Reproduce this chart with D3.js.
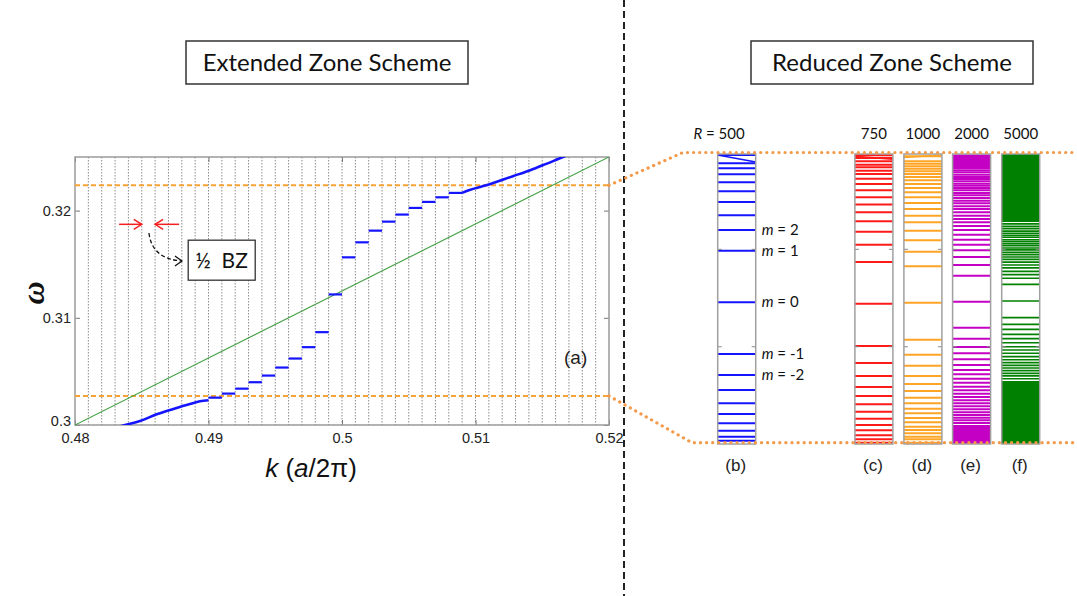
<!DOCTYPE html>
<html>
<head>
<meta charset="utf-8">
<script src="https://cdn.jsdelivr.net/npm/d3@7"></script>
<style>
  body { margin: 0; background: #fff; }
  svg { display: block; }
</style>
</head>
<body>
<svg id="fig" width="1077" height="596"></svg>
<script>
// ---------------- data ----------------
// (a) extended zone: dispersion of the ring modes vs. k
const kDomain = [0.48, 0.52];
const omegaDomain = [0.3, 0.325];
const kTicks = [0.48, 0.49, 0.5, 0.51, 0.52];
const kTickLabels = ["0.48", "0.49", "0.5", "0.51", "0.52"];
const omegaTicks = [0.3, 0.31, 0.32];
const omegaTickLabels = ["0.3", "0.31", "0.32"];
const zoneStep = 0.001;                     // half Brillouin zone width in k

const lightLineK = [0.48, 0.52];
const lightLineOmega = [0.3, 0.325];

const lowerBranchK = [0.4830, 0.48375, 0.48487, 0.48612, 0.48737, 0.48861, 0.48936, 0.4900];
const lowerBranchOmega = [0.29975, 0.3000, 0.30037, 0.30100, 0.30150, 0.30196, 0.30221, 0.30231];

const upperBranchK = [0.5090, 0.5095, 0.5108, 0.5128, 0.5141, 0.5153, 0.5167, 0.5175];
const upperBranchOmega = [0.32165, 0.32190, 0.32236, 0.32321, 0.32377, 0.32436, 0.32507, 0.32545];

const stepStartK = [0.490, 0.491, 0.492, 0.493, 0.494, 0.495, 0.496, 0.497, 0.498, 0.499,
                    0.500, 0.501, 0.502, 0.503, 0.504, 0.505, 0.506, 0.507, 0.508];
const stepOmega = [0.30255, 0.30293, 0.30339, 0.30399, 0.30461, 0.30536, 0.30620, 0.30726, 0.30866, 0.31218,
                   0.31564, 0.31704, 0.31813, 0.31897, 0.31963, 0.32025, 0.32081, 0.32124, 0.32165];

// frequency window shown in the reduced zone panels
const windowOmega = [0.30271, 0.32236];

// (b)-(f) reduced zone: mode frequencies for rings of radius R
const ringRadii = ["500", "750", "1000", "2000", "5000"];
const panelLetters = ["(b)", "(c)", "(d)", "(e)", "(f)"];
const columnTickOmega = [0.3159, 0.3093];

const levelsR500 = [0.32229, 0.32173, 0.32139, 0.32098, 0.32044, 0.31983, 0.31911, 0.31821, 0.31721, 0.31581,
  0.31231, 0.30881, 0.30739, 0.30637, 0.30547, 0.30474, 0.30411, 0.30361, 0.30320, 0.30293];
const levelsR750 = [0.32227, 0.32209, 0.32187, 0.32164, 0.32146, 0.32123, 0.32100, 0.32069, 0.32033, 0.31990,
  0.31943, 0.31893, 0.31841, 0.31780, 0.31710, 0.31621, 0.31504, 0.31222, 0.30935, 0.30820, 0.30732, 0.30657,
  0.30596, 0.30540, 0.30490, 0.30442, 0.30400, 0.30364, 0.30330, 0.30303, 0.30280];
const levelsR1000 = [0.32220, 0.32187, 0.32170, 0.32153, 0.32136, 0.32119, 0.32100, 0.32080, 0.32058, 0.32033,
  0.32006, 0.31977, 0.31943, 0.31904, 0.31863, 0.31818, 0.31773, 0.31716, 0.31651, 0.31574, 0.31475, 0.31228,
  0.30978, 0.30876, 0.30802, 0.30732, 0.30678, 0.30630, 0.30585, 0.30547, 0.30510, 0.30479, 0.30447, 0.30418,
  0.30388, 0.30366, 0.30343, 0.30320, 0.30303, 0.30280];
const levelsR2000 = [0.32226, 0.32216, 0.32206, 0.32195, 0.32185, 0.32175, 0.32165, 0.32155, 0.32141, 0.32126,
  0.32112, 0.32096, 0.32080, 0.32067, 0.32051, 0.32035, 0.32021, 0.32006, 0.31990, 0.31972, 0.31956, 0.31938,
  0.31920, 0.31902, 0.31882, 0.31863, 0.31841, 0.31818, 0.31796, 0.31773, 0.31748, 0.31721, 0.31689, 0.31655,
  0.31621, 0.31584, 0.31538, 0.31484, 0.31411, 0.31235, 0.31059, 0.30985, 0.30928, 0.30886, 0.30845, 0.30806,
  0.30772, 0.30743, 0.30713, 0.30686, 0.30659, 0.30635, 0.30612, 0.30589, 0.30567, 0.30547, 0.30526, 0.30506,
  0.30486, 0.30468, 0.30449, 0.30432, 0.30413, 0.30393, 0.30379, 0.30369, 0.30359, 0.30349, 0.30339, 0.30329,
  0.30318, 0.30308, 0.30298, 0.30288, 0.30278];
const levelsR5000 = [0.31762, 0.31746, 0.31730, 0.31714, 0.31699, 0.31685, 0.31672, 0.31655, 0.31642, 0.31628,
  0.31615, 0.31599, 0.31586, 0.31570, 0.31554, 0.31538, 0.31522, 0.31504, 0.31484, 0.31464, 0.31441, 0.31418,
  0.31394, 0.31353, 0.31240, 0.31127, 0.31082, 0.31048, 0.31014, 0.30985, 0.30957, 0.30930, 0.30908, 0.30886,
  0.30863, 0.30842, 0.30822, 0.30804, 0.30786, 0.30768, 0.30750, 0.30732, 0.30713];
// unresolved, densely packed modes
const denseBandsR5000 = [[0.31775, 0.32236], [0.30271, 0.30698]];
// tilted segments at the top edge (left edge omega, right edge omega)
const crossingR500 = [0.32229, 0.32182];
const crossingR750 = [0.32220, 0.32200];
const crossingR1000 = [0.32212, 0.32229];

const modeNumbers = ["2", "1", "0", "-1", "-2"];
const modeOmega = [0.31721, 0.31581, 0.31231, 0.30881, 0.30739];

// ---------------- layout ----------------
const svg = d3.select("#fig");
const plot = { left: 75, right: 609, top: 157, bottom: 425 };
const x = d3.scaleLinear().domain(kDomain).range([plot.left, plot.right]);
const y = d3.scaleLinear().domain(omegaDomain).range([plot.bottom, plot.top]);

const SANS = "'Liberation Sans', Arial, sans-serif";
const CAL = "Lato, 'Open Sans', sans-serif";
const ORANGE = "#f7a234";

// vertical divider between the two schemes
svg.append("line")
  .attr("x1", 624).attr("x2", 624).attr("y1", 0).attr("y2", 596)
  .attr("stroke", "#222").attr("stroke-width", 2).attr("stroke-dasharray", "7,4");

// titled boxes
function titleBox(cx, label) {
  const g = svg.append("g");
  g.append("rect").attr("x", cx - 141).attr("y", 41).attr("width", 282).attr("height", 43)
    .attr("fill", "#fff").attr("stroke", "#333").attr("stroke-width", 1.5);
  g.append("text").attr("x", cx).attr("y", 71).attr("text-anchor", "middle")
    .attr("font-family", CAL).attr("font-size", 24).attr("fill", "#111").text(label);
}
titleBox(327, "Extended Zone Scheme");
titleBox(892, "Reduced Zone Scheme");

// ---------------- panel (a) ----------------
svg.append("defs").append("clipPath").attr("id", "plotClip")
  .append("rect").attr("x", plot.left).attr("y", plot.top)
  .attr("width", plot.right - plot.left).attr("height", plot.bottom - plot.top);

const pa = svg.append("g");

// zone boundaries every half BZ
const gridK = d3.range(Math.round((kDomain[1] - kDomain[0]) / zoneStep) - 1)
  .map(i => kDomain[0] + (i + 1) * zoneStep);
pa.append("g").selectAll("line").data(gridK).join("line")
  .attr("x1", d => x(d)).attr("x2", d => x(d))
  .attr("y1", plot.top).attr("y2", plot.bottom)
  .attr("stroke", "#8c8c8c").attr("stroke-width", 1).attr("stroke-dasharray", "1.5,1.5");

// axes with inward ticks
const axisStyle = g => {
  g.select(".domain").remove();
  g.selectAll(".tick line").attr("stroke", "#777").attr("stroke-width", 1);
  g.selectAll(".tick text").attr("font-family", SANS).attr("font-size", 14.5).attr("fill", "#222");
};
pa.append("g").attr("transform", `translate(0,${plot.bottom})`)
  .call(d3.axisBottom(x).tickValues(kTicks).tickFormat((d, i) => kTickLabels[i])
    .tickSizeInner(-5).tickSizeOuter(0).tickPadding(8))
  .call(axisStyle);
pa.append("g").attr("transform", `translate(0,${plot.top})`)
  .call(d3.axisTop(x).tickValues(kTicks).tickFormat("").tickSizeInner(-5).tickSizeOuter(0))
  .call(axisStyle);
const leftAxis = pa.append("g").attr("transform", `translate(${plot.left},0)`)
  .call(d3.axisLeft(y).tickValues(omegaTicks).tickFormat((d, i) => omegaTickLabels[i])
    .tickSizeInner(-5).tickSizeOuter(0).tickPadding(4))
  .call(axisStyle);
// the lowest label sits a little higher so it clears the k labels
leftAxis.selectAll(".tick text").filter(d => d === omegaDomain[0]).attr("dy", "0.05em");
pa.append("g").attr("transform", `translate(${plot.right},0)`)
  .call(d3.axisRight(y).tickValues(omegaTicks).tickFormat("").tickSizeInner(-5).tickSizeOuter(0))
  .call(axisStyle);

// frame
pa.append("rect").attr("x", plot.left).attr("y", plot.top)
  .attr("width", plot.right - plot.left).attr("height", plot.bottom - plot.top)
  .attr("fill", "none").attr("stroke", "#9a9a9a").attr("stroke-width", 1.5);

const inner = pa.append("g").attr("clip-path", "url(#plotClip)");

// frequency window
inner.selectAll("line.win").data(windowOmega).join("line").attr("class", "win")
  .attr("x1", plot.left).attr("x2", plot.right)
  .attr("y1", d => y(d)).attr("y2", d => y(d))
  .attr("stroke", ORANGE).attr("stroke-width", 2).attr("stroke-dasharray", "5,3");

// light line
const line = d3.line().x(d => x(d[0])).y(d => y(d[1]));
inner.append("path").datum(d3.zip(lightLineK, lightLineOmega))
  .attr("d", line).attr("fill", "none").attr("stroke", "#3f9f3f").attr("stroke-width", 1.1);

// guided branches outside the folding region
const smooth = d3.line().x(d => x(d[0])).y(d => y(d[1])).curve(d3.curveMonotoneX);
[d3.zip(lowerBranchK, lowerBranchOmega), d3.zip(upperBranchK, upperBranchOmega)].forEach(br => {
  inner.append("path").datum(br).attr("d", smooth)
    .attr("fill", "none").attr("stroke", "#1414ff").attr("stroke-width", 2.6);
});

// flat ring-mode steps
inner.selectAll("line.step").data(d3.zip(stepStartK, stepOmega)).join("line").attr("class", "step")
  .attr("x1", d => x(d[0])).attr("x2", d => x(d[0] + zoneStep))
  .attr("y1", d => y(d[1])).attr("y2", d => y(d[1]))
  .attr("stroke", "#1414ff").attr("stroke-width", 2.2);

// axis titles
pa.append("text").attr("transform", `translate(44,${(plot.top + plot.bottom) / 2 + 2}) rotate(-90)`)
  .attr("text-anchor", "middle").attr("font-family", "'Liberation Serif', serif")
  .attr("font-style", "italic").attr("font-weight", "bold").attr("font-size", 32).attr("fill", "#111")
  .text("ω");
const xt = pa.append("text").attr("x", 311).attr("y", 477)
  .attr("text-anchor", "middle").attr("font-family", SANS).attr("font-size", 26).attr("fill", "#111");
xt.append("tspan").attr("font-style", "italic").text("k");
xt.append("tspan").text(" (");
xt.append("tspan").attr("font-style", "italic").text("a");
xt.append("tspan").text("/2π)");

pa.append("text").attr("x", x(0.5175)).attr("y", y(0.30567)).attr("text-anchor", "middle")
  .attr("font-family", SANS).attr("font-size", 19).attr("fill", "#222").text("(a)");

// half-BZ annotation
const arrowY = y(0.31872);
const red = "#f42020";
function arrow(xFrom, xTo) {
  const dir = Math.sign(xTo - xFrom);
  pa.append("line").attr("x1", xFrom).attr("x2", xTo).attr("y1", arrowY).attr("y2", arrowY)
    .attr("stroke", red).attr("stroke-width", 1.5);
  pa.append("path")
    .attr("d", `M${xTo - dir * 8},${arrowY - 5} L${xTo},${arrowY} L${xTo - dir * 8},${arrowY + 5}`)
    .attr("fill", "none").attr("stroke", red).attr("stroke-width", 1.5);
}
arrow(x(0.4833), x(0.485));
arrow(x(0.4878), x(0.486));

const cs = [x(0.48554), y(0.31791)], ce = [x(0.48801), y(0.31530)];
pa.append("path")
  .attr("d", `M${cs[0]},${cs[1]} Q${cs[0] + 3},${ce[1] - 2} ${ce[0]},${ce[1]}`)
  .attr("fill", "none").attr("stroke", "#111").attr("stroke-width", 1.3).attr("stroke-dasharray", "4,2.5");
pa.append("path")
  .attr("d", `M${ce[0] - 7},${ce[1] - 5} L${ce[0]},${ce[1]} L${ce[0] - 7},${ce[1] + 5}`)
  .attr("fill", "none").attr("stroke", "#111").attr("stroke-width", 1.3);

const bzBox = { x: x(0.48848), y: y(0.31724), w: 67, h: 40 };
pa.append("rect").attr("x", bzBox.x).attr("y", bzBox.y).attr("width", bzBox.w).attr("height", bzBox.h)
  .attr("fill", "#fff").attr("stroke", "#333").attr("stroke-width", 1.3);
pa.append("text").attr("x", bzBox.x + bzBox.w / 2).attr("y", bzBox.y + 28).attr("text-anchor", "middle")
  .attr("font-family", CAL).attr("font-size", 21).attr("fill", "#111").attr("xml:space", "preserve")
  .text("½  BZ");

// ---------------- panels (b)-(f) ----------------
const colTop = 154, colBottom = 444, colW = 38;
const yCol = d3.scaleLinear().domain(windowOmega).range([colBottom, colTop]);
const colCenters = [736.7, 873.9, 922.9, 971.6, 1020.7];

const columns = [
  { levels: levelsR500, color: "#1414ff", width: 2, crossing: crossingR500, bands: [] },
  { levels: levelsR750, color: "#ff1a1a", width: 2, crossing: crossingR750, bands: [] },
  { levels: levelsR1000, color: "#ffa526", width: 2, crossing: crossingR1000, bands: [] },
  { levels: levelsR2000, color: "#c400c4", width: 2, crossing: null, bands: [] },
  { levels: levelsR5000, color: "#008000", width: 1.7, crossing: null, bands: denseBandsR5000 }
];

columns.forEach((c, i) => {
  const cx = colCenters[i], x0 = cx - colW / 2, x1 = cx + colW / 2;
  const g = svg.append("g");
  g.append("rect").attr("x", x0).attr("y", colTop).attr("width", colW).attr("height", colBottom - colTop)
    .attr("fill", "#fff");
  g.selectAll("rect.band").data(c.bands).join("rect").attr("class", "band")
    .attr("x", x0).attr("width", colW)
    .attr("y", d => yCol(d[1])).attr("height", d => yCol(d[0]) - yCol(d[1]))
    .attr("fill", c.color);
  g.selectAll("line.lev").data(c.levels).join("line").attr("class", "lev")
    .attr("x1", x0).attr("x2", x1)
    .attr("y1", d => yCol(d)).attr("y2", d => yCol(d))
    .attr("stroke", c.color).attr("stroke-width", c.width);
  if (c.crossing) {
    g.append("line").attr("x1", x0).attr("x2", x1)
      .attr("y1", yCol(c.crossing[0])).attr("y2", yCol(c.crossing[1]))
      .attr("stroke", c.color).attr("stroke-width", 1.6);
  }
  // frame and small ticks
  g.selectAll("line.ctl").data(columnTickOmega).join("line").attr("class", "ctl")
    .attr("x1", x0).attr("x2", x0 + 4).attr("y1", d => yCol(d)).attr("y2", d => yCol(d))
    .attr("stroke", "#888").attr("stroke-width", 1);
  g.selectAll("line.ctr").data(columnTickOmega).join("line").attr("class", "ctr")
    .attr("x1", x1 - 4).attr("x2", x1).attr("y1", d => yCol(d)).attr("y2", d => yCol(d))
    .attr("stroke", "#888").attr("stroke-width", 1);
  g.append("rect").attr("x", x0).attr("y", colTop).attr("width", colW).attr("height", colBottom - colTop)
    .attr("fill", "none").attr("stroke", "#a0a0a0").attr("stroke-width", 1.5);

  // radius label
  const t = svg.append("text").attr("y", 139).attr("font-family", CAL).attr("font-size", 15).attr("fill", "#111");
  if (i === 0) {
    t.attr("x", x1 - 11).attr("text-anchor", "end");
    t.append("tspan").attr("font-style", "italic").text("R");
    t.append("tspan").text(" = " + ringRadii[i]);
  } else {
    t.attr("x", cx).attr("text-anchor", "middle").text(ringRadii[i]);
  }
  // panel letter
  svg.append("text").attr("x", cx - 1).attr("y", 471).attr("text-anchor", "middle")
    .attr("font-family", SANS).attr("font-size", 17).attr("fill", "#222").text(panelLetters[i]);
});

// azimuthal mode numbers for R = 500
const mx = colCenters[0] + colW / 2 + 6;
modeNumbers.forEach((m, i) => {
  const t = svg.append("text").attr("x", mx).attr("y", yCol(modeOmega[i]) + 5)
    .attr("font-family", CAL).attr("font-size", 15).attr("fill", "#111");
  t.append("tspan").attr("font-style", "italic").text("m");
  t.append("tspan").text(" = " + m);
});

// dotted connectors from the window in (a) to the reduced-zone panels
const conn = d3.line();
const topPts = [[x(kDomain[1]), y(windowOmega[1])], [683, yCol(windowOmega[1]) - 1.5], [1077, yCol(windowOmega[1]) - 1.5]];
const botPts = [[x(kDomain[1]), y(windowOmega[0])], [692, yCol(windowOmega[0]) - 1.3], [1077, yCol(windowOmega[0]) - 1.3]];
[topPts, botPts].forEach(p => {
  svg.append("path").attr("d", conn(p)).attr("fill", "none")
    .attr("stroke", "#f39a4a").attr("stroke-width", 3.2)
    .attr("stroke-linecap", "round").attr("stroke-dasharray", "0.1,6");
});
</script>
</body>
</html>
